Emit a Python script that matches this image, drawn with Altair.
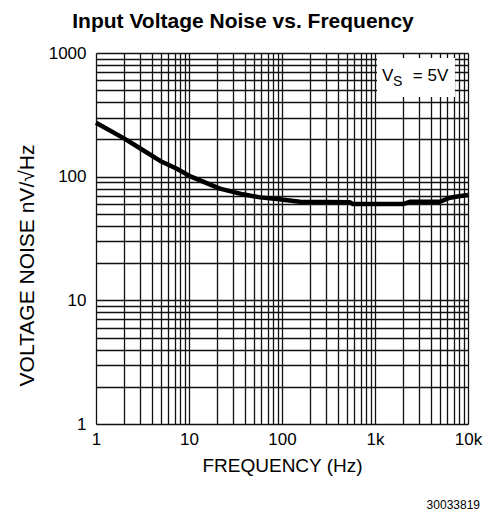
import altair as alt
import pandas as pd

# Curve values (frequency in Hz, noise in nV/sqrt(Hz))
freq = [1, 2, 3, 4.9, 7.4, 10.2, 21.5, 38, 58, 88, 156, 300, 540, 580, 1000, 2000, 2400, 3500, 5000, 6400, 8000, 10000]
noise = [273, 204, 169, 134, 116, 101, 80, 72, 68, 66, 62.7, 62.5, 62, 60, 60, 60, 62.7, 62.7, 62.7, 67.6, 69.5, 71]

# Grid values (every 1..9 per decade) and label texts
x_grid = [m * 10 ** e for e in range(0, 4) for m in range(1, 10)] + [10000]
y_grid = [m * 10 ** e for e in range(0, 3) for m in range(1, 10)] + [1000]

title_text = "Input Voltage Noise vs. Frequency"
x_title = "FREQUENCY (Hz)"
y_title = "VOLTAGE NOISE nV/\u221aHz"
code_text = "30033819"

FONT = "Liberation Sans"

df = pd.DataFrame({"f": freq, "v": noise})

xscale = alt.Scale(type="log", domain=[1, 10000], nice=False)
yscale = alt.Scale(type="log", domain=[1, 1000], nice=False)

xaxis = alt.Axis(
    values=x_grid, title=x_title, grid=True, ticks=False, domain=False,
    gridColor="#111111", gridWidth=1.3, gridOpacity=1,
    labelExpr="datum.value == 1 ? '1' : datum.value == 10 ? '10' : datum.value == 100 ? '100' : datum.value == 1000 ? '1k' : datum.value == 10000 ? '10k' : ''",
    labelFont=FONT, labelFontSize=17, labelColor="black", labelPadding=7,
    labelOverlap=False, labelFlush=False,
    titleFont=FONT, titleFontSize=19, titleFontWeight="normal", titleColor="black",
    titlePadding=9,
)
yaxis = alt.Axis(
    values=y_grid, title=y_title, grid=True, ticks=False, domain=False,
    gridColor="#111111", gridWidth=1.3, gridOpacity=1,
    labelExpr="datum.value == 1 ? '1' : datum.value == 10 ? '10' : datum.value == 100 ? '100' : datum.value == 1000 ? '1000' : ''",
    labelFont=FONT, labelFontSize=17, labelColor="black", labelPadding=10,
    labelOverlap=False, labelFlush=False,
    titleFont=FONT, titleFontSize=21, titleFontWeight="normal", titleColor="black",
    titleX=-69, titleY=212, titleAngle=270, titleBaseline="middle", titleAlign="center",
)

line = alt.Chart(df).mark_line(color="black", strokeWidth=4.5, strokeJoin="round").encode(
    x=alt.X("f:Q", scale=xscale, axis=xaxis),
    y=alt.Y("v:Q", scale=yscale, axis=yaxis),
)

# Annotation box (white, covers grid) and V_S = 5V text
box_df = pd.DataFrame({"x1": [1051], "x2": [7245], "y1": [910], "y2": [440]})
box = alt.Chart(box_df).mark_rect(color="white").encode(
    x=alt.X("x1:Q", scale=xscale), x2="x2:Q",
    y=alt.Y("y1:Q", scale=yscale), y2="y2:Q",
)

ann_df = pd.DataFrame({
    "x": [1189, 1563, 2550],
    "y": [593, 540, 593],
    "t": ["V", "S", "= 5V"],
    "s": [17, 14, 17],
})
ann = alt.Chart(ann_df).mark_text(font=FONT, align="left", baseline="alphabetic", color="black").encode(
    x=alt.X("x:Q", scale=xscale), y=alt.Y("y:Q", scale=yscale),
    text="t:N", size=alt.Size("s:Q", scale=None, legend=None),
)

code = alt.Chart(pd.DataFrame({"t": [code_text]})).mark_text(
    font=FONT, fontSize=12, align="right", baseline="middle", color="black"
).encode(x=alt.value(384), y=alt.value(452), text="t:N")

chart = alt.layer(box, line, ann, code).properties(
    width=372, height=371,
    autosize=alt.AutoSizeParams(type="none"),
    padding={"left": 88, "top": 45, "right": 17, "bottom": 92},
    title=alt.TitleParams(
        text=title_text, font=FONT, fontSize=21, fontWeight="bold", color="black",
        anchor="middle", dx=-39, offset=12,
    ),
).configure_view(stroke="black", strokeWidth=2).configure(background="white")

chart.save("out.html", embed_options={"renderer": "svg", "actions": False})
